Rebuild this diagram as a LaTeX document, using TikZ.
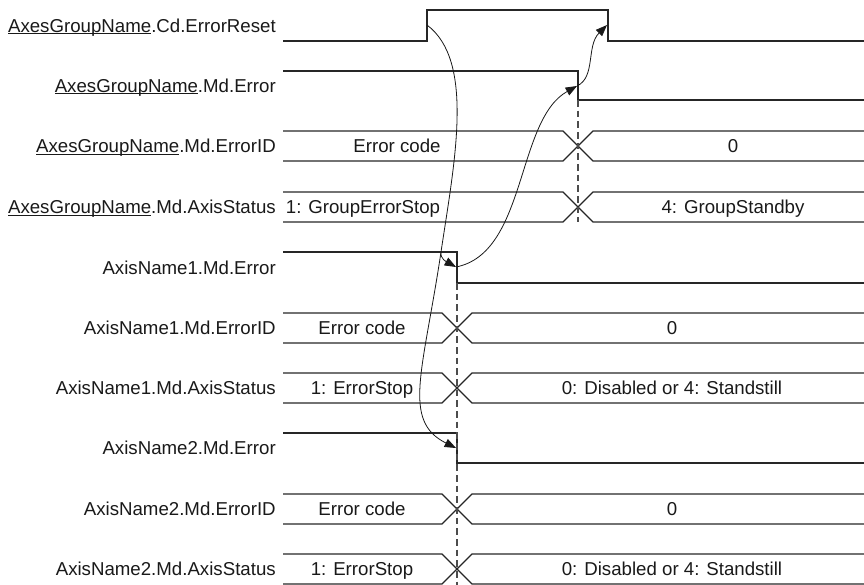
\documentclass[tikz,border=0pt]{standalone}
\usepackage{fontspec}
\setmainfont{Liberation Sans}
\usetikzlibrary{arrows.meta}
\newsavebox{\grpbox}
\newcommand{\grpname}{\sbox{\grpbox}{AxesGroupName}\rlap{\rule[-1.3pt]{\wd\grpbox}{0.7pt}}\usebox{\grpbox}}

\begin{document}
\begin{tikzpicture}[
  x=0.75pt,y=-0.75pt,
  font=\fontsize{14}{16}\selectfont,
  sig/.style={draw=black!85,line width=0.95pt},
  guide/.style={draw=black!70,line width=0.8pt,dash pattern=on 5pt off 3pt},
  flow/.style={draw=black!90,line width=0.6pt,-{Triangle[length=8.5pt,width=6.5pt]}},
  lbl/.style={anchor=base east,inner sep=0pt,text=black!90},
  val/.style={anchor=base,inner sep=0pt,text=black!90},
]
\useasboundingbox (0,0) rectangle (864,585);

\node[lbl] (lrst) at (276,32.2) {\grpname.Cd.ErrorReset};
\node[lbl] (lgerr) at (276,92.2) {\grpname.Md.Error};
\node[lbl] (lgid) at (276,152.7) {\grpname.Md.ErrorID};
\node[lbl] (lgst) at (276,213.7) {\grpname.Md.AxisStatus};
\node[lbl] (la1err) at (276,274.2) {AxisName1.Md.Error};
\node[lbl] (la1id) at (276,334.7) {AxisName1.Md.ErrorID};
\node[lbl] (la1st) at (276,394.7) {AxisName1.Md.AxisStatus};
\node[lbl] (la2err) at (276,454.7) {AxisName2.Md.Error};
\node[lbl] (la2id) at (276,515.7) {AxisName2.Md.ErrorID};
\node[lbl] (la2st) at (276,575.7) {AxisName2.Md.AxisStatus};

\draw[sig] (283,41) -- (427,41) -- (427,10) -- (608,10) -- (608,41) -- (864,41);
\draw[sig] (283,71) -- (578,71) -- (578,100) -- (864,100);
\draw[sig] (283,131) -- (563,131) -- (593,161) -- (864,161);
\draw[sig] (283,161) -- (563,161) -- (593,131) -- (864,131);
\draw[sig] (283,192) -- (563,192) -- (593,222) -- (864,222);
\draw[sig] (283,222) -- (563,222) -- (593,192) -- (864,192);
\draw[sig] (283,252) -- (457,252) -- (457,283) -- (864,283);
\draw[sig] (283,313) -- (442,313) -- (472,343) -- (864,343);
\draw[sig] (283,343) -- (442,343) -- (472,313) -- (864,313);
\draw[sig] (283,373) -- (442,373) -- (472,403) -- (864,403);
\draw[sig] (283,403) -- (442,403) -- (472,373) -- (864,373);
\draw[sig] (283,433) -- (457,433) -- (457,463) -- (864,463);
\draw[sig] (283,494) -- (442,494) -- (472,524) -- (864,524);
\draw[sig] (283,524) -- (442,524) -- (472,494) -- (864,494);
\draw[sig] (283,554) -- (442,554) -- (472,584) -- (864,584);
\draw[sig] (283,584) -- (442,584) -- (472,554) -- (864,554);

\draw[guide] (578,100) -- (578,222);
\draw[guide] (457,283) -- (457,585);

\node[val] (gid0) at (397,152.7) {Error code};
\node[val] (gid1) at (733,152.7) {0};
\node[val] (gst0) at (363,213.7) {1: GroupErrorStop};
\node[val] (gst1) at (733,213.7) {4: GroupStandby};
\node[val] (a1id0) at (362,334.7) {Error code};
\node[val] (a1id1) at (672,334.7) {0};
\node[val] (a1st0) at (362,394.7) {1: ErrorStop};
\node[val] (a1st1) at (672,394.7) {0: Disabled or 4: Standstill};
\node[val] (a2id0) at (362,515.7) {Error code};
\node[val] (a2id1) at (672,515.7) {0};
\node[val] (a2st0) at (362,575.7) {1: ErrorStop};
\node[val] (a2st1) at (672,575.7) {0: Disabled or 4: Standstill};

\coordinate (rstrise) at (427,25);
\coordinate (rstfall) at (607,25);
\coordinate (gerrfall) at (577,86);
\coordinate (a1fall) at (456,267);
\coordinate (a2fall) at (456,448);
\coordinate (fork) at (441,252);

\draw[flow] (rstrise) .. controls (475,61) and (454.5,162) .. (fork)
  .. controls (423,372) and (401.6,421) .. (a2fall);
\draw[flow] (fork) .. controls (440,259) and (447,262) .. (a1fall);
\draw[flow] (a1fall) .. controls (527,253) and (516,120) .. (gerrfall);
\draw[flow] (gerrfall) .. controls (596,77) and (586,46) .. (rstfall);
\end{tikzpicture}
\end{document}
